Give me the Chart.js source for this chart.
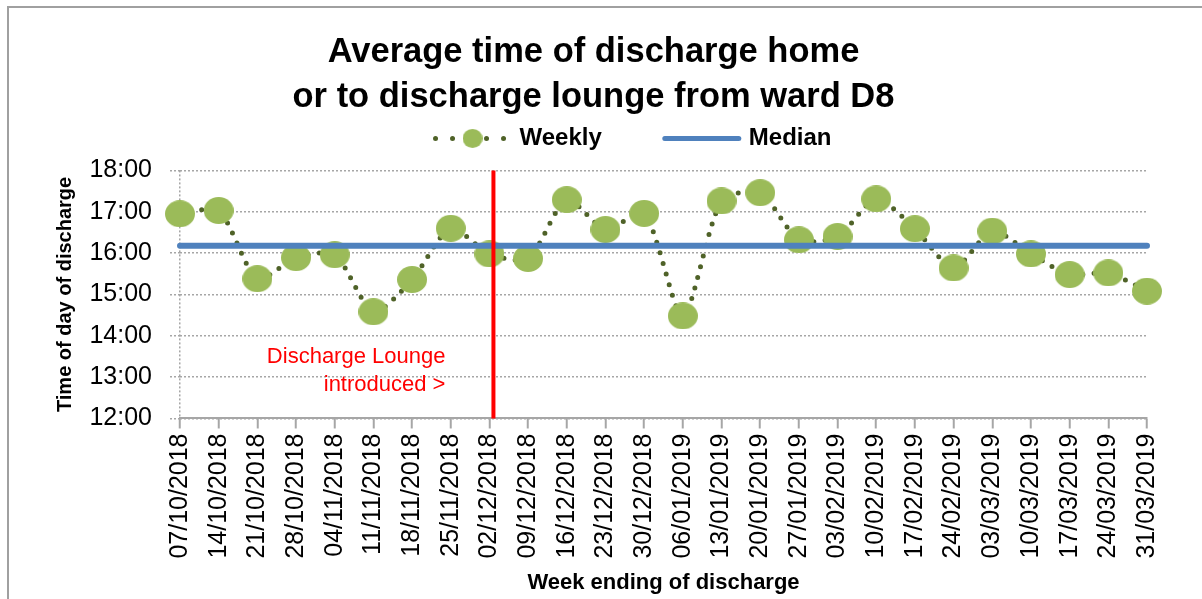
<!DOCTYPE html>
<html>
<head>
<meta charset="utf-8">
<script src="https://cdn.jsdelivr.net/npm/chart.js@4"></script>
<style>
  html, body { margin: 0; padding: 0; background: #fff; }
  #wrap { position: relative; width: 1202px; height: 599px; overflow: hidden; }
  #frame { position: absolute; left: 7px; top: 6px; width: 1300px; height: 700px; border-left: 2px solid #a0a0a0; border-top: 2px solid #a0a0a0; }
  #chart { position: absolute; left: 0; top: 0; }
</style>
</head>
<body>
<div id="wrap">
  <div id="frame"></div>
  <canvas id="chart" width="1202" height="599"></canvas>
</div>
<script>
const weeks = [
  '07/10/2018', '14/10/2018', '21/10/2018', '28/10/2018', '04/11/2018', '11/11/2018',
  '18/11/2018', '25/11/2018', '02/12/2018', '09/12/2018', '16/12/2018', '23/12/2018',
  '30/12/2018', '06/01/2019', '13/01/2019', '20/01/2019', '27/01/2019', '03/02/2019',
  '10/02/2019', '17/02/2019', '24/02/2019', '03/03/2019', '10/03/2019', '17/03/2019',
  '24/03/2019', '31/03/2019'
];
// average discharge time, in hours of the day
const weeklyHours = [
  16.95, 17.03, 15.38, 15.89, 15.96, 14.58, 15.36, 16.60, 15.98, 15.87, 17.29, 16.57,
  16.96, 14.48, 17.26, 17.46, 16.32, 16.40, 17.31, 16.59, 15.64, 16.53, 15.98, 15.48,
  15.52, 15.08
];
const medianHours = 16.18;
const yTickHours = [12, 13, 14, 15, 16, 17, 18];
const loungeWeek = '02/12/2018';

const FONT = "'Liberation Sans', Arial, sans-serif";
const GREEN = '#9BBB59';
const DOT = '#4F6228';
const BLUE = '#4F81BD';
const GRID = '#a6a6a6';

function ellipseImage(w, h, color) {
  const c = document.createElement('canvas');
  c.width = w; c.height = h;
  const g = c.getContext('2d');
  g.fillStyle = color;
  g.beginPath();
  g.ellipse(w / 2, h / 2, w / 2, h / 2, 0, 0, Math.PI * 2);
  g.fill();
  return c;
}

const pointImg = ellipseImage(30, 27, GREEN);

// red marker + note for the discharge lounge start
const loungePlugin = {
  id: 'loungeLine',
  afterDatasetsDraw(chart) {
    const {ctx, chartArea, scales: {x, y}} = chart;
    const px = x.getPixelForValue(weeks.indexOf(loungeWeek)) + 4;
    ctx.save();
    ctx.strokeStyle = '#ff0000';
    ctx.lineWidth = 4;
    ctx.beginPath();
    ctx.moveTo(px, chartArea.top);
    ctx.lineTo(px, chartArea.bottom);
    ctx.stroke();
    ctx.fillStyle = '#ff0000';
    ctx.font = '22px ' + FONT;
    ctx.textAlign = 'right';
    ctx.textBaseline = 'middle';
    const ty = y.getPixelForValue(13.5);
    ctx.fillText('Discharge Lounge', px - 48, ty);
    ctx.fillText('introduced >', px - 48, ty + 28);
    ctx.restore();
  }
};

// legend drawn by hand so the dotted marker looks like the original
const legendPlugin = {
  id: 'weeklyLegend',
  afterDraw(chart) {
    const {ctx, chartArea} = chart;
    const ly = chartArea.top - 32;
    ctx.save();
    ctx.font = 'bold 24px ' + FONT;
    ctx.textBaseline = 'middle';
    const w1 = ctx.measureText('Weekly').width;
    const w2 = ctx.measureText('Median').width;
    const total = 70 + 14 + w1 + 63 + 74 + 10 + w2;
    let lx = (chartArea.left + chartArea.right) / 2 - 30 - total / 2;

    ctx.strokeStyle = DOT;
    ctx.lineWidth = 5;
    ctx.lineCap = 'round';
    ctx.setLineDash([0, 17]);
    ctx.beginPath();
    ctx.moveTo(lx, ly);
    ctx.lineTo(lx + 70, ly);
    ctx.stroke();
    ctx.setLineDash([]);
    ctx.drawImage(ellipseImage(20, 19, GREEN), lx + 27, ly - 9.5);
    lx += 70 + 14;
    ctx.fillStyle = '#000';
    ctx.fillText('Weekly', lx, ly);
    lx += w1 + 63;

    ctx.strokeStyle = BLUE;
    ctx.lineWidth = 5;
    ctx.beginPath();
    ctx.moveTo(lx, ly);
    ctx.lineTo(lx + 74, ly);
    ctx.stroke();
    lx += 74 + 10;
    ctx.fillText('Median', lx, ly);
    ctx.restore();
  }
};

new Chart(document.getElementById('chart'), {
  type: 'line',
  data: {
    labels: weeks,
    datasets: [
      {
        label: 'Median',
        data: weeks.map(() => medianHours),
        borderColor: BLUE,
        borderWidth: 6,
        borderCapStyle: 'round',
        pointRadius: 0,
        tension: 0
      },
      {
        label: 'Weekly',
        data: weeklyHours,
        borderColor: DOT,
        borderWidth: 5,
        borderDash: [0, 11],
        borderCapStyle: 'round',
        tension: 0.25,
        pointStyle: pointImg,
        pointRadius: 15,
        clip: false
      }
    ]
  },
  options: {
    responsive: false,
    animation: false,
    layout: { padding: { top: 8, left: 40, right: 55, bottom: 0 } },
    plugins: {
      legend: { display: false },
      tooltip: { enabled: false },
      title: {
        display: true,
        text: ['Average time of discharge home', 'or to discharge lounge from ward D8'],
        color: '#000',
        font: { family: FONT, size: 34.5, weight: 'bold', lineHeight: 1.31 },
        padding: { top: 22, bottom: 50 }
      }
    },
    scales: {
      x: {
        offset: false,
        grid: {
          color: ctx => ctx.index === 0 ? GRID : 'transparent',
          lineWidth: 1.5,
          tickColor: GRID,
          tickWidth: 2,
          tickLength: 10,
          tickBorderDash: []
        },
        border: { display: true, color: GRID, width: 2, dash: [2, 2] },
        ticks: {
          autoSkip: false,
          maxRotation: 90,
          minRotation: 90,
          padding: 5,
          color: '#000',
          font: { family: FONT, size: 25 }
        },
        title: {
          display: true,
          text: 'Week ending of discharge',
          color: '#000',
          font: { family: FONT, size: 22, weight: 'bold' },
          padding: { top: 6, bottom: 3 }
        }
      },
      y: {
        min: yTickHours[0],
        max: yTickHours[yTickHours.length - 1],
        afterBuildTicks: axis => { axis.ticks = yTickHours.map(v => ({ value: v })); },
        afterFit: axis => { axis.width = 140; },
        grid: {
          color: GRID,
          lineWidth: 1.5,
          tickLength: 10,
          tickColor: GRID,
          tickBorderDash: [2, 2]
        },
        border: { display: false, dash: [2, 2] },
        ticks: {
          padding: 18,
          color: '#000',
          font: { family: FONT, size: 25 },
          callback: v => String(v).padStart(2, '0') + ':00'
        },
        title: {
          display: true,
          text: 'Time of day of discharge',
          color: '#000',
          font: { family: FONT, size: 20, weight: 'bold' },
          padding: { top: 13, bottom: 0 }
        }
      }
    }
  },
  plugins: [loungePlugin, legendPlugin]
});
</script>
</body>
</html>
